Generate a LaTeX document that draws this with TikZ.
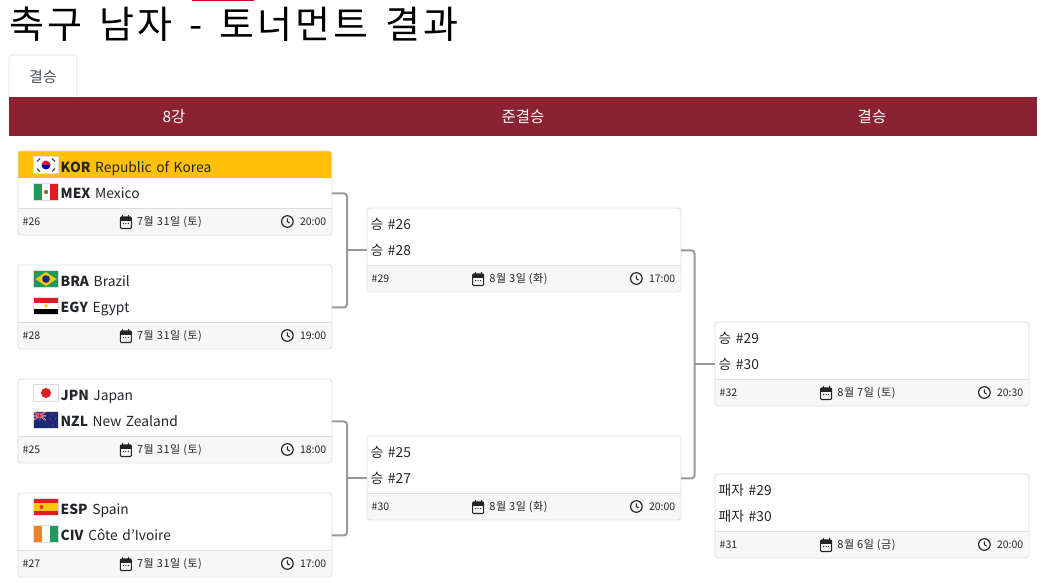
\documentclass[tikz,border=0pt]{standalone}
\usepackage{fontspec}
\setmainfont{Noto Sans CJK KR}
\newfontfamily\titlefont[LetterSpace=8.5,WordSpace=1.43]{Noto Sans CJK KR}
\newfontfamily\datefont[LetterSpace=5]{Noto Sans CJK KR}
\definecolor{barred}{HTML}{8B2232}
\definecolor{topred}{HTML}{C8102E}
\definecolor{winrow}{HTML}{FFC107}
\definecolor{cardline}{HTML}{DDDDDD}
\definecolor{footfill}{HTML}{F7F7F7}
\definecolor{inkdark}{HTML}{212529}
\definecolor{tabgrey}{HTML}{495057}
\definecolor{linkgrey}{HTML}{999999}
\definecolor{flagnavy}{HTML}{1B2A78}
\definecolor{flagred}{HTML}{DE1C24}
\definecolor{flaggreen}{HTML}{1E9A5C}
\definecolor{flagyellow}{HTML}{F9C80E}
\definecolor{flagorange}{HTML}{F58025}
\tikzset{
  cardbox/.style={draw=cardline, line width=0.8pt, rounded corners=3pt, anchor=north west, minimum width=314pt, minimum height=84pt, inner sep=0pt},
  rowbase/.style={anchor=north west, inner xsep=0pt, inner ysep=0pt, text width=314pt, align=left, text height=10pt, text depth=3pt, font=\fontsize{13.8}{16}\selectfont, text=inkdark},
  rowplain/.style={rowbase, minimum height=27.5pt},
  rowwin/.style={rowbase, minimum height=27.5pt, fill=winrow},
  footrow/.style={anchor=north west, fill=footfill, minimum width=314pt, minimum height=26pt, inner sep=0pt},
  foottext/.style={font=\fontsize{10.5}{12}\selectfont, text=inkdark, inner sep=0pt},
  headtext/.style={font=\fontsize{15.5}{17}\selectfont, text=white, inner sep=0pt},
  bracket/.style={draw=linkgrey, line width=2pt, rounded corners=3pt},
  flagedge/.style={draw=cardline, line width=0.6pt}
}
% one match: number, x, y, style of first row, first row, second row, date, time
\newcommand{\matchcard}[8]{
  \begin{scope}
    \clip[rounded corners=3pt] (#2,#3) rectangle ++(314,84);
    \node[#4] (m#1a) at (#2,#3) {\raisebox{-4.5pt}{#5}};
    \path (#2,#3) ++(0,27.5) coordinate (m#1p);
    \node[rowplain, minimum height=30.5pt] (m#1b) at (m#1p) {\raisebox{-2pt}{#6}};
    \path (#2,#3) ++(0,58) coordinate (m#1q);
    \node[footrow] (m#1f) at (m#1q) {};
  \end{scope}
  \draw[cardline, line width=0.8pt] (m#1f.north west) -- (m#1f.north east);
  \node[cardbox] (m#1) at (#2,#3) {};
  \path (#2,#3) ++(5,71) coordinate (m#1r);
  \node[foottext, anchor=west] (m#1n) at (m#1r) {\##1};
  \path (#2,#3) ++(152,71.5) coordinate (m#1s);
  \node[foottext, font=\fontsize{11}{12}\selectfont\datefont] (m#1d) at (m#1s) {#7};
  \path (#2,#3) ++(309,71) coordinate (m#1u);
  \node[foottext, anchor=east] (m#1t) at (m#1u) {#8};
  \begin{scope}[shift={(m#1d.west)}]
    \draw[inkdark, line width=1.1pt, rounded corners=1pt] (-16.5,-5) rectangle (-5.5,6.5);
    \fill[inkdark] (-16.5,-5) rectangle (-5.5,-1.5);
    \draw[inkdark, line width=1.2pt] (-14,-7) -- (-14,-5) (-8,-7) -- (-8,-5);
    \fill[inkdark] (-14,1) rectangle (-13,2) (-11.5,1) rectangle (-10.5,2) (-9,1) rectangle (-8,2);
  \end{scope}
  \begin{scope}[shift={(m#1t.west)}]
    \draw[inkdark, line width=1.2pt] (-12.5,0) circle (5.8);
    \draw[inkdark, line width=1.1pt] (-12.5,-3.2) -- (-12.5,0) -- (-10.3,1.6);
  \end{scope}
}
\newcommand{\flagat}[3]{
  \begin{scope}[shift={(#1,#2)}]
    #3
    \draw[flagedge] (0,0) rectangle (25,17);
  \end{scope}
}
\newcommand{\flagKOR}{
  \fill[white] (0,0) rectangle (25,17);
  \fill[flagred] (8,8.5) arc (180:0:4.5 and -4.5) -- cycle;
  \fill[blue!70!black] (8,8.5) arc (180:360:4.5 and -4.5) -- cycle;
  \draw[black!70, line width=1.2pt] (3.5,5) -- (6.5,2) (18.5,2) -- (21.5,5) (3.5,12) -- (6.5,15) (18.5,15) -- (21.5,12);
}
\newcommand{\flagMEX}{
  \fill[flaggreen] (0,0) rectangle (8.3,17);
  \fill[white] (8.3,0) rectangle (16.7,17);
  \fill[flagred] (16.7,0) rectangle (25,17);
  \fill[brown!80!black] (12.5,8.5) circle (2.2);
}
\newcommand{\flagBRA}{
  \fill[flaggreen] (0,0) rectangle (25,17);
  \fill[flagyellow] (12.5,1.5) -- (23,8.5) -- (12.5,15.5) -- (2,8.5) -- cycle;
  \fill[flagnavy] (12.5,8.5) circle (3.8);
}
\newcommand{\flagEGY}{
  \fill[flagred] (0,0) rectangle (25,5.7);
  \fill[white] (0,5.7) rectangle (25,11.3);
  \fill[black] (0,11.3) rectangle (25,17);
  \fill[flagyellow] (12.5,8.5) circle (1.8);
}
\newcommand{\flagJPN}{
  \fill[white] (0,0) rectangle (25,17);
  \fill[flagred] (12.5,8.5) circle (5);
}
\newcommand{\flagNZL}{
  \fill[flagnavy] (0,0) rectangle (25,17);
  \draw[white, line width=1.3pt] (0,0) -- (12,8.5) (12,0) -- (0,8.5) (6,0) -- (6,8.5) (0,4.2) -- (12,4.2);
  \draw[flagred, line width=0.7pt] (0,0) -- (12,8.5) (12,0) -- (0,8.5) (6,0) -- (6,8.5) (0,4.2) -- (12,4.2);
  \fill[flagred] (19,3) circle (0.9) (16.5,7.5) circle (0.9) (22,7) circle (0.9) (19,13.5) circle (0.9);
}
\newcommand{\flagESP}{
  \fill[flagred] (0,0) rectangle (25,17);
  \fill[flagyellow] (0,4.25) rectangle (25,12.75);
  \fill[red!60!brown] (8,8.5) circle (2);
}
\newcommand{\flagCIV}{
  \fill[flagorange] (0,0) rectangle (8.3,17);
  \fill[white] (8.3,0) rectangle (16.7,17);
  \fill[flaggreen] (16.7,0) rectangle (25,17);
}
\newcommand{\team}[2]{\hspace*{43pt}\textbf{#1} #2}
\newcommand{\slot}[1]{\hspace*{4pt}#1}

\begin{document}
\begin{tikzpicture}[x=1pt, y=-1pt]
\useasboundingbox (0,0) rectangle (1042,583);

\fill[topred] (192,0) rectangle (254,1);
\node[anchor=base west, inner sep=0pt, font=\fontsize{38}{40}\selectfont\titlefont, text=black] (pagetitle) at (9,39) {축구 남자 - 토너먼트 결과};

\draw[draw=cardline, line width=0.8pt, fill=white, rounded corners=3pt] (9,98) -- (9,55) -- (77,55) -- (77,98);
\node[inner sep=0pt, font=\fontsize{15}{17}\selectfont, text=tabgrey] (finaltab) at (43,77) {결승};

\fill[barred] (9,97) rectangle (1037,136);
\node[headtext] (roundqf) at (174,116.5) {8강};
\node[headtext] (roundsf) at (523,116.5) {준결승};
\node[headtext] (roundfn) at (872,116.5) {결승};

\matchcard{26}{17.5}{150.5}{rowwin}{\team{KOR}{Republic of Korea}}{\team{MEX}{Mexico}}{7월 31일 (토)}{20:00}
\matchcard{28}{17.5}{264.5}{rowplain}{\team{BRA}{Brazil}}{\team{EGY}{Egypt}}{7월 31일 (토)}{19:00}
\matchcard{25}{17.5}{378.5}{rowplain}{\team{JPN}{Japan}}{\team{NZL}{New Zealand}}{7월 31일 (토)}{18:00}
\matchcard{27}{17.5}{492.5}{rowplain}{\team{ESP}{Spain}}{\team{CIV}{Côte d'Ivoire}}{7월 31일 (토)}{17:00}

\matchcard{29}{366.5}{207.5}{rowplain}{\slot{승 \#26}}{\slot{승 \#28}}{8월 3일 (화)}{17:00}
\matchcard{30}{366.5}{435.5}{rowplain}{\slot{승 \#25}}{\slot{승 \#27}}{8월 3일 (화)}{20:00}

\matchcard{32}{714.5}{321.5}{rowplain}{\slot{승 \#29}}{\slot{승 \#30}}{8월 7일 (토)}{20:30}
\matchcard{31}{714.5}{473.5}{rowplain}{\slot{패자 \#29}}{\slot{패자 \#30}}{8월 6일 (금)}{20:00}

\flagat{33.5}{156.5}{\flagKOR}
\flagat{33.5}{183.5}{\flagMEX}
\flagat{33.5}{270.5}{\flagBRA}
\flagat{33.5}{297.5}{\flagEGY}
\flagat{33.5}{384.5}{\flagJPN}
\flagat{33.5}{411.5}{\flagNZL}
\flagat{33.5}{498.5}{\flagESP}
\flagat{33.5}{525.5}{\flagCIV}

% brackets between rounds
\path (m29b.west) ++(-19.5,0) coordinate (join29);
\path (m30b.west) ++(-19.5,0) coordinate (join30);
\path (m32b.west) ++(-20,0) coordinate (join32);

\draw[bracket] (m26b.east) -| (join29) |- (m28b.east);
\draw[bracket] (join29) -- (m29b.west);
\draw[bracket] (m25b.east) -| (join30) |- (m27b.east);
\draw[bracket] (join30) -- (m30b.west);
\draw[bracket] (m29b.east) -| (join32) |- (m30b.east);
\draw[bracket] (join32) -- (m32b.west);

\end{tikzpicture}
\end{document}
